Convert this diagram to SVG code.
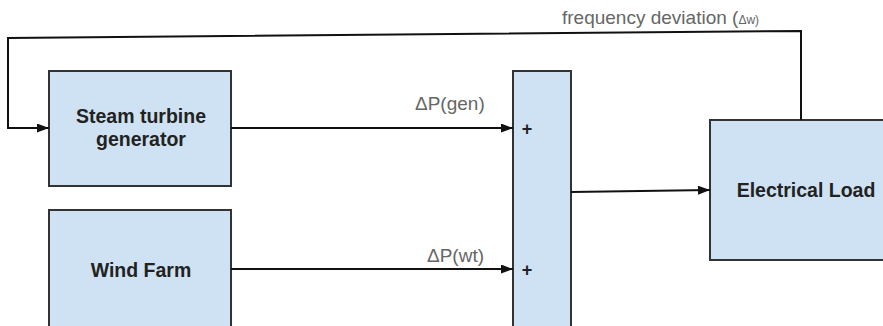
<svg xmlns="http://www.w3.org/2000/svg" width="883" height="326" viewBox="0 0 883 326">
<style>
.box{fill:#cfe2f3;stroke:#333;stroke-width:2}
.lbl{font-family:"Liberation Sans",Arial,sans-serif;font-weight:bold;font-size:19.5px;fill:#222;text-anchor:middle}
.sig{font-family:"Liberation Sans",Arial,sans-serif;font-size:19px;fill:#666}
.plus{font-family:"Liberation Sans",Arial,sans-serif;font-weight:bold;font-size:18px;fill:#222;text-anchor:middle}
.wire{fill:none;stroke:#111;stroke-width:2}
</style>
<defs>
<marker id="arr" markerWidth="12" markerHeight="9" refX="12" refY="4.5" orient="auto" markerUnits="userSpaceOnUse">
<path d="M0,0 L12,4.5 L0,9 Z" fill="#111"/>
</marker>
</defs>
<rect width="883" height="326" fill="#fff"/>
<g id="steam">
<rect class="box" x="49" y="71" width="182" height="115"/>
<text class="lbl" x="141" y="123">Steam turbine</text>
<text class="lbl" x="141" y="146">generator</text>
</g>
<g id="wind">
<rect class="box" x="49" y="210" width="182" height="120"/>
<text class="lbl" x="141" y="277">Wind Farm</text>
</g>
<g id="sum">
<rect class="box" x="513" y="71" width="58" height="260"/>
<text class="plus" x="527" y="135">+</text>
<text class="plus" x="527" y="276">+</text>
</g>
<g id="load">
<rect class="box" x="710" y="120" width="180" height="140"/>
<text class="lbl" x="806" y="197">Electrical Load</text>
</g>
<g id="connectors">
<path class="wire" d="M801,120 L801,31 L8,38 L8,128 L49,128" marker-end="url(#arr)"/>
<path class="wire" d="M231,128 L513,128" marker-end="url(#arr)"/>
<path class="wire" d="M231,269 L513,269" marker-end="url(#arr)"/>
<path class="wire" d="M571,192 L710,190" marker-end="url(#arr)"/>
<text class="sig" x="415" y="110">ΔP(gen)</text>
<text class="sig" x="427" y="262">ΔP(wt)</text>
<text class="sig" x="562" y="24">frequency deviation (<tspan font-size="12">Δw)</tspan></text>
</g>
</svg>
